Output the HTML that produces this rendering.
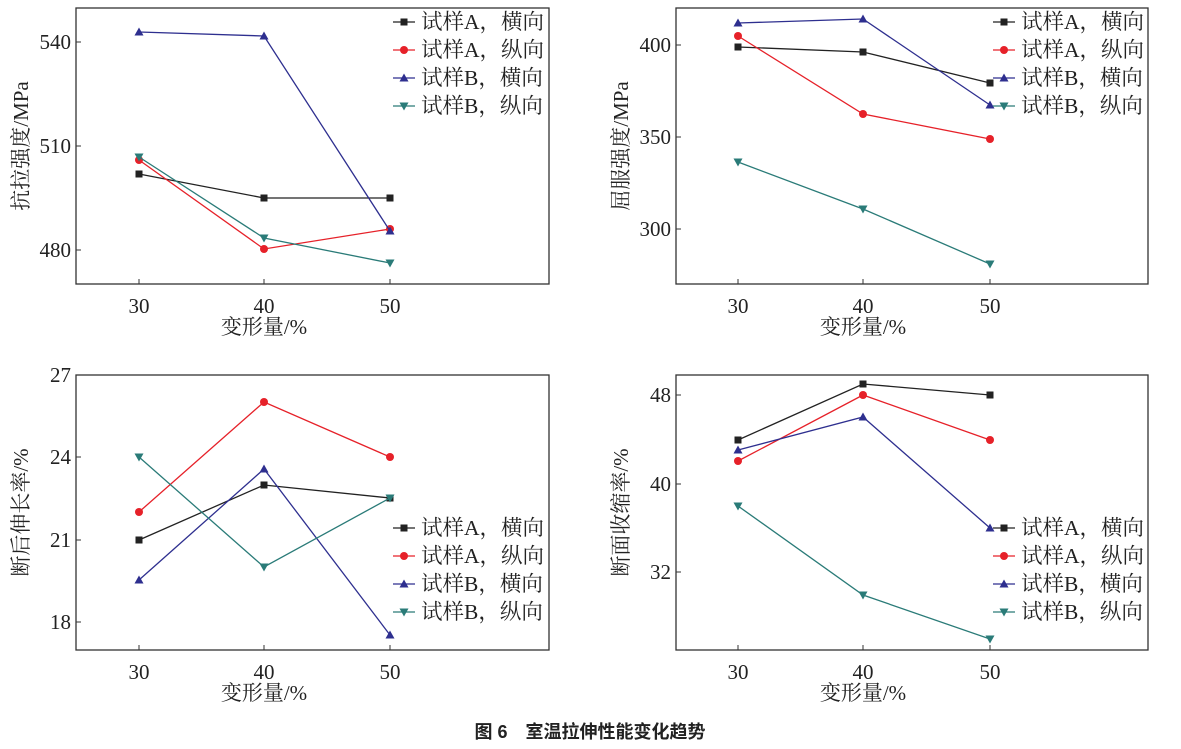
<!DOCTYPE html><html><head><meta charset="utf-8"><style>body{margin:0;background:#fff}svg{display:block}</style></head><body>
<svg id="s" width="1181" height="749" xmlns="http://www.w3.org/2000/svg" font-family="Liberation Serif,Noto Serif CJK SC,serif"></svg>
<script>
const C=['#222','#e62129','#2e2f8f','#2a7b78'];
const P=[
{x0:76,x1:549,y0:8,y1:284,xs:[139,264,390],yt:[[540,42],[510,146],[480,250]],lab:'抗拉强度/MPa',lg:22,
 d:[[174,198,198],[160,249,229],[32,36,231],[157,238,263]]},
{x0:676,x1:1148,y0:8,y1:284,xs:[738,863,990],yt:[[400,45],[350,137],[300,229]],lab:'屈服强度/MPa',lg:22,
 d:[[47,52,83],[36,114,139],[23,19,105],[162,209,264]]},
{x0:76,x1:549,y0:375,y1:650,xs:[139,264,390],yt:[[27,375],[24,457],[21,540],[18,622]],lab:'断后伸长率/%',lg:528,
 d:[[540,485,498],[512,402,457],[580,469,635],[457,567,498]]},
{x0:676,x1:1148,y0:375,y1:650,xs:[738,863,990],yt:[[48,395],[40,484],[32,572]],lab:'断面收缩率/%',lg:528,
 d:[[440,384,395],[461,395,440],[450,417,528],[506,595,639]]}];
const L=['试样A，横向','试样A，纵向','试样B，横向','试样B，纵向'];
function mk(i,x,y){const c=C[i];
 if(i==0)return `<rect x="${x-3.5}" y="${y-3.5}" width="7" height="7" fill="${c}"/>`;
 if(i==1)return `<circle cx="${x}" cy="${y}" r="4" fill="${c}"/>`;
 if(i==2)return `<path d="M${x-4.5} ${y+3.5}L${x+4.5} ${y+3.5}L${x} ${y-4.5}Z" fill="${c}"/>`;
 return `<path d="M${x-4.5} ${y-3.5}L${x+4.5} ${y-3.5}L${x} ${y+4.5}Z" fill="${c}"/>`;}
let h='';
for(const p of P){
 h+=`<rect x="${p.x0}" y="${p.y0}" width="${p.x1-p.x0}" height="${p.y1-p.y0}" fill="none" stroke="#333" stroke-width="1.3"/>`;
 for(const x of p.xs){h+=`<line x1="${x}" y1="${p.y1}" x2="${x}" y2="${p.y1-5}" stroke="#333"/><text x="${x}" y="${p.y1+29}" font-size="21" text-anchor="middle" fill="#222">${(p.xs.indexOf(x)+3)*10}</text>`;}
 for(const [v,y] of p.yt){h+=`<line x1="${p.x0}" y1="${y}" x2="${p.x0+5}" y2="${y}" stroke="#333"/><text x="${p.x0-5}" y="${y+7}" font-size="21" text-anchor="end" fill="#222">${v}</text>`;}
 h+=`<text x="${(p.xs[1])}" y="${p.y1+50}" font-size="21" text-anchor="middle" fill="#222">变形量/%</text>`;
 const yc=(p.y0+p.y1)/2;
 h+=`<text transform="translate(${p.x0-48},${yc}) rotate(-90)" font-size="21" text-anchor="middle" fill="#222">${p.lab}</text>`;
 p.d.forEach((ys,i)=>{h+=`<polyline points="${ys.map((y,k)=>p.xs[k]+','+y).join(' ')}" fill="none" stroke="${C[i]}" stroke-width="1.3"/>`;ys.forEach((y,k)=>h+=mk(i,p.xs[k],y));});
 for(let i=0;i<4;i++){const y=p.lg+i*28;const lx=p.x0+317;
  h+=`<line x1="${lx}" y1="${y}" x2="${lx+22}" y2="${y}" stroke="${C[i]}" stroke-width="1.3"/>`+mk(i,lx+11,y)+`<text x="${lx+28}" y="${y+7}" font-size="21.5" fill="#222">${L[i]}</text>`;}
}
h+=`<text x="590" y="738" font-size="18" font-weight="bold" text-anchor="middle" font-family="Liberation Sans,Noto Sans CJK SC,sans-serif" fill="#222">图 6　室温拉伸性能变化趋势</text>`;
document.getElementById('s').innerHTML=h;
</script></body></html>
